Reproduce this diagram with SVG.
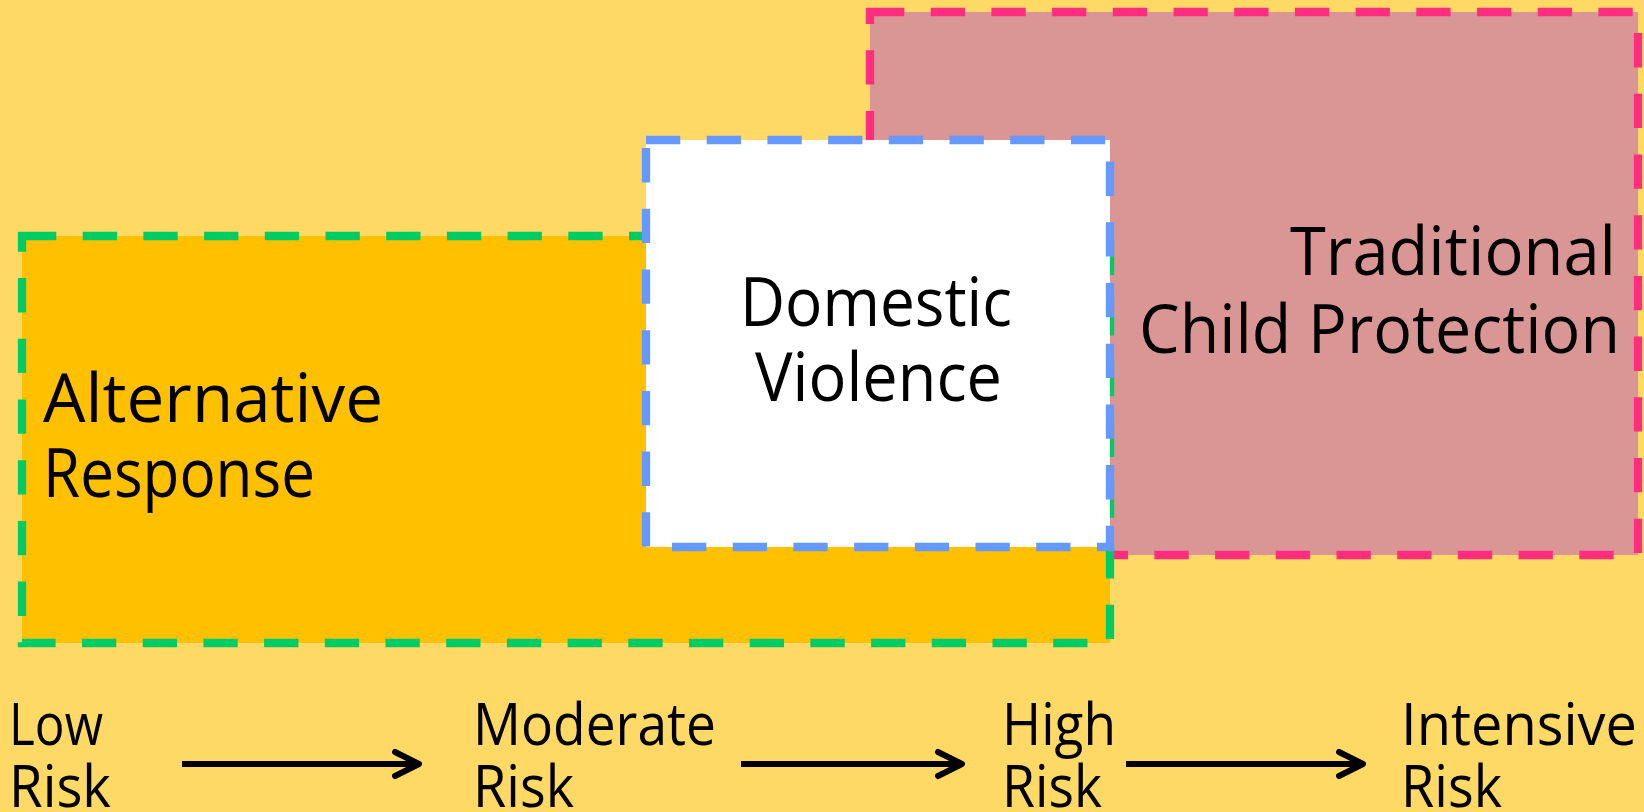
<svg xmlns="http://www.w3.org/2000/svg" width="1644" height="812" viewBox="0 0 1644 812">
<style>
.box{stroke-width:8.3;stroke-dasharray:34.3 26.4}
.lbl{font-family:"Open Sans","DejaVu Sans",sans-serif;fill:#000}
.big{font-size:67px}
.small{font-size:58px}
.arr{stroke:#000;stroke-width:6;fill:none}
</style>
<defs>
<marker id="ah" markerUnits="userSpaceOnUse" viewBox="-30 -20 40 40" markerWidth="40" markerHeight="40" refX="0" refY="0" orient="auto" overflow="visible">
<path d="M -24 -12 L 0 0 L -24 12" fill="none" stroke="#000" stroke-width="6" stroke-linecap="round" stroke-linejoin="round"/>
</marker>
</defs>
<rect x="0" y="0" width="1644" height="812" fill="#FFD966"/>
<g id="traditional">
<rect class="box" x="870" y="12" width="768" height="543" fill="#D99694" stroke="#FF2D80"/>
<text class="lbl big" x="1290" y="275" textLength="326" lengthAdjust="spacingAndGlyphs">Traditional</text>
<text class="lbl big" x="1139" y="353" textLength="481" lengthAdjust="spacingAndGlyphs">Child Protection</text>
</g>
<g id="alternative">
<rect class="box" x="22" y="236" width="1088" height="407" fill="#FFC000" stroke="#00CC66"/>
<text class="lbl big" x="43" y="422" textLength="340" lengthAdjust="spacingAndGlyphs">Alternative</text>
<text class="lbl big" x="43" y="497" textLength="272" lengthAdjust="spacingAndGlyphs">Response</text>
</g>
<g id="domestic">
<rect class="box" x="646" y="140" width="464" height="407" fill="#FFFFFF" stroke="#6699FF"/>
<text class="lbl big" x="740" y="326" textLength="272" lengthAdjust="spacingAndGlyphs">Domestic</text>
<text class="lbl big" x="755" y="401" textLength="247" lengthAdjust="spacingAndGlyphs">Violence</text>
</g>
<g id="low">
<text class="lbl small" x="9" y="745" textLength="94" lengthAdjust="spacingAndGlyphs">Low</text>
<text class="lbl small" x="9" y="807" textLength="102" lengthAdjust="spacingAndGlyphs">Risk</text>
</g>
<g id="moderate">
<text class="lbl small" x="473" y="745" textLength="243" lengthAdjust="spacingAndGlyphs">Moderate</text>
<text class="lbl small" x="473" y="807" textLength="101" lengthAdjust="spacingAndGlyphs">Risk</text>
</g>
<g id="high">
<text class="lbl small" x="1002" y="745" textLength="114" lengthAdjust="spacingAndGlyphs">High</text>
<text class="lbl small" x="1002" y="807" textLength="100" lengthAdjust="spacingAndGlyphs">Risk</text>
</g>
<g id="intensive">
<text class="lbl small" x="1401" y="745" textLength="236" lengthAdjust="spacingAndGlyphs">Intensive</text>
<text class="lbl small" x="1401" y="807" textLength="101" lengthAdjust="spacingAndGlyphs">Risk</text>
</g>
<g id="connectors">
<line class="arr" x1="182" y1="764" x2="419" y2="764" marker-end="url(#ah)"/>
<line class="arr" x1="741" y1="764" x2="962" y2="764" marker-end="url(#ah)"/>
<line class="arr" x1="1126" y1="764" x2="1363" y2="764" marker-end="url(#ah)"/>
</g>
</svg>
